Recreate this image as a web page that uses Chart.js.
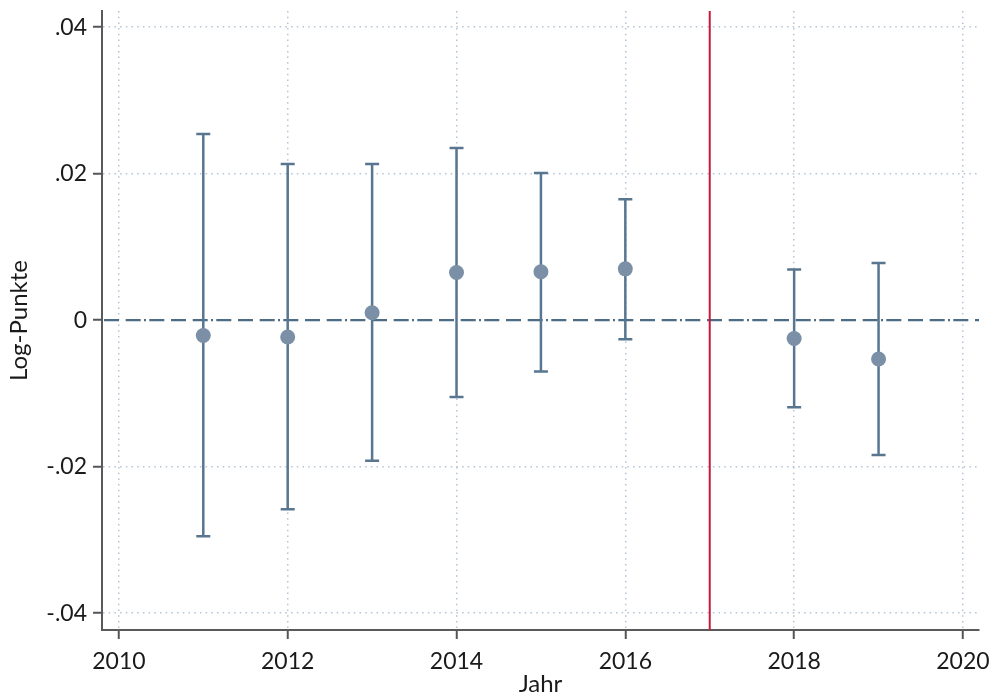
<!DOCTYPE html>
<html>
<head>
<meta charset="utf-8">
<script src="https://cdn.jsdelivr.net/npm/chart.js@4/dist/chart.umd.min.js"></script>
<style>
  html, body { margin: 0; padding: 0; background: #fff; }
  #wrap { width: 990px; height: 695px; }
</style>
</head>
<body>
<div id="wrap"><canvas id="coef-chart" width="990" height="695"></canvas></div>
<script>
// ====== DATA ======
const years = [2011, 2012, 2013, 2014, 2015, 2016, 2018, 2019];
const estimates = [-0.0021, -0.0023, 0.0010, 0.0065, 0.0066, 0.0070, -0.0025, -0.0053];
const ciLower = [-0.0295, -0.0258, -0.0192, -0.0105, -0.0070, -0.0026, -0.0119, -0.0184];
const ciUpper = [0.0254, 0.0213, 0.0213, 0.0235, 0.0201, 0.0165, 0.0069, 0.0078];
const xTicks = [2010, 2012, 2014, 2016, 2018, 2020];
const yTicks = [-0.04, -0.02, 0, 0.02, 0.04];
const yTickLabels = ['-.04', '-.02', '0', '.02', '.04'];
const reformYear = 2017;

const ctx = document.getElementById('coef-chart').getContext('2d');

// ====== PLUGINS ======
// zero reference line (dash-dash-dash-dot) and the red vertical marker
const referenceLines = {
  id: 'referenceLines',
  beforeDatasetsDraw(chart) {
    const { ctx, chartArea, scales } = chart;
    const y0 = scales.y.getPixelForValue(0);
    const xr = scales.x.getPixelForValue(reformYear);
    ctx.save();
    ctx.strokeStyle = '#4d6c86';
    ctx.lineWidth = 2.3;
    ctx.setLineDash([15, 6.7, 15, 6.7, 15, 3.3, 2, 3.3]);
    ctx.lineDashOffset = 19.7;
    ctx.beginPath();
    ctx.moveTo(chartArea.left, y0);
    ctx.lineTo(chartArea.right, y0);
    ctx.stroke();
    ctx.setLineDash([]);
    ctx.strokeStyle = '#c8183c';
    ctx.lineWidth = 2;
    ctx.beginPath();
    ctx.moveTo(xr, chartArea.top);
    ctx.lineTo(xr, chartArea.bottom);
    ctx.stroke();
    ctx.restore();
  }
};

// confidence interval whiskers with caps
const errorBars = {
  id: 'errorBars',
  beforeDatasetsDraw(chart) {
    const { ctx, scales } = chart;
    const cap = 7;
    ctx.save();
    ctx.strokeStyle = '#587690';
    ctx.lineWidth = 2.5;
    years.forEach((yr, i) => {
      const x = scales.x.getPixelForValue(yr);
      const yLo = scales.y.getPixelForValue(ciLower[i]);
      const yHi = scales.y.getPixelForValue(ciUpper[i]);
      ctx.beginPath();
      ctx.moveTo(x, yLo);
      ctx.lineTo(x, yHi);
      ctx.moveTo(x - cap, yLo);
      ctx.lineTo(x + cap, yLo);
      ctx.moveTo(x - cap, yHi);
      ctx.lineTo(x + cap, yHi);
      ctx.stroke();
    });
    ctx.restore();
  }
};

// ====== CHART ======
const gridStyle = {
  color: (c) => (c.tick && c.tick.value === 0 ? 'rgba(0,0,0,0)' : '#b3c4d4'),
  lineWidth: 1.5,
  tickColor: '#555',
  tickWidth: 2,
  tickLength: 9,
  tickBorderDash: [],
  drawOnChartArea: true
};
const borderStyle = { color: '#5a5a5a', width: 2, dash: [1.5, 4.2] };

new Chart(ctx, {
  type: 'scatter',
  data: {
    datasets: [{
      label: 'Koeffizient',
      data: years.map((yr, i) => ({ x: yr, y: estimates[i] })),
      backgroundColor: '#7b90a6',
      borderWidth: 0,
      pointRadius: 7.5,
      pointHoverRadius: 7.5
    }]
  },
  options: {
    responsive: false,
    animation: false,
    layout: { padding: { top: 11, right: 11, left: 0, bottom: 0 } },
    plugins: {
      legend: { display: false },
      tooltip: { enabled: false }
    },
    scales: {
      x: {
        type: 'linear',
        min: 2009.8,
        max: 2020.19,
        afterBuildTicks: (scale) => { scale.ticks = xTicks.map(v => ({ value: v })); },
        afterFit: (scale) => { scale.height = 65; },
        ticks: {
          callback: (v) => String(v),
          // tall line box pushes the year labels down below the tick marks
          font: { family: 'Lato', size: 23, lineHeight: 1.95 },
          color: '#1a1a1a',
          padding: 0,
          maxRotation: 0
        },
        grid: gridStyle,
        border: borderStyle,
        title: {
          display: true,
          text: 'Jahr',
          font: { family: 'Lato', size: 24 },
          color: '#1a1a1a',
          padding: { top: 0, bottom: -4 }
        }
      },
      y: {
        min: -0.0423,
        max: 0.0422,
        afterBuildTicks: (scale) => { scale.ticks = yTicks.map(v => ({ value: v })); },
        afterFit: (scale) => { scale.width = 102; },
        ticks: {
          callback: (v) => yTickLabels[yTicks.indexOf(v)],
          font: { family: 'Lato', size: 23, lineHeight: 0.4 },
          color: '#1a1a1a',
          padding: 6
        },
        grid: gridStyle,
        border: borderStyle,
        title: {
          display: true,
          text: 'Log-Punkte',
          font: { family: 'Lato', size: 24 },
          color: '#1a1a1a',
          padding: { top: 5, bottom: 0 }
        }
      }
    }
  },
  plugins: [referenceLines, errorBars]
});
</script>
</body>
</html>
